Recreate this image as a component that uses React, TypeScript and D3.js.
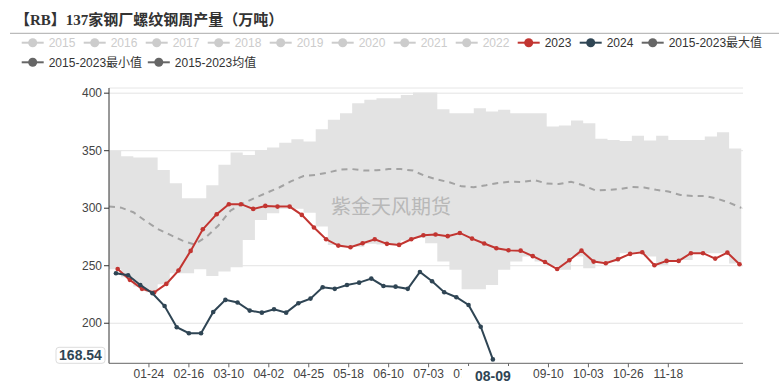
import React from "react";
import * as d3 from "d3";

const W = 779;
const H = 386;
const fmt = d3.timeFormat("%m-%d");

// category axis: every day of a (leap) year, MM-DD
const categories = d3.timeDay.range(new Date(2024, 0, 1), new Date(2025, 0, 1)).map(fmt);
// weekly dates of each series
const dates2023 = d3.timeFriday.range(new Date(2023, 0, 1), new Date(2024, 0, 1)).map(fmt);
const dates2024 = d3.timeFriday.range(new Date(2024, 0, 1), new Date(2024, 7, 10)).map(fmt);
const bandDates = d3.timeMonday.range(new Date(2024, 0, 1), new Date(2025, 0, 1)).map(fmt);

const values2023 = [
  247.2, 237.7, 229.9, 226.7, 234.2, 245.8, 262.9, 281.7, 294.8, 303.5,
  303.5, 299.4, 302, 301.4, 301.4, 294.2, 283.2, 273, 267.5, 266.1,
  269.6, 273, 269, 268.1, 273, 276.5, 277.1, 275.7, 278.5, 273.6,
  269.3, 265.2, 263.4, 263.1, 258.3, 253.2, 247.1, 254.8, 263.1, 253.6,
  252.2, 255.6, 260.3, 261.7, 250.4, 254.2, 254.2, 260.9, 260.9, 256.2,
  261.4, 251.3,
];
const values2024 = [
  243.5, 241.7, 233.3, 226.1, 215, 196.5, 191.3, 191.3, 209.8, 220.3,
  218, 211, 209.2, 212.2, 209.2, 217.4, 221.4, 231.3, 229.9, 233.3,
  235.3, 238.8, 232.4, 231.8, 229.9, 244.6, 236.5, 227, 222.6, 215.9,
  197, 168.54,
];
const bandMax = [
  350, 345.2, 344, 344, 333.3, 321.7, 308.7, 308.7, 320, 337.7,
  348.4, 346.3, 350.7, 352.7, 357, 360, 358, 368.7, 376.8, 382.6,
  391.3, 394.2, 395.6, 395.6, 398.5, 400.5, 400.5, 386, 382.6, 382.6,
  387, 384, 385.5, 382.6, 382.6, 382.6, 371, 371.8, 376.2, 373.9,
  360.3, 359.4, 358.5, 362.9, 358.8, 362.9, 359.4, 359.4, 359.4, 362.3,
  366.1, 352, 347.8,
];
const bandMin = [
  247, 240, 232, 227, 234, 243.5, 243.5, 247, 241, 245,
  248.7, 272.4, 289.8, 295.6, 301, 300, 296, 284, 268, 266,
  266.5, 269, 268.5, 268, 272, 274, 269.6, 253.6, 246.4, 229.6,
  229.6, 233.3, 246.4, 253.6, 258, 253.6, 250, 246.4, 258, 247.8,
  253.6, 253.6, 260.9, 260.9, 258, 250.7, 255, 255, 260.9, 260.9,
  260.9, 252, 252,
];
const bandAvg = [
  301.5, 300.5, 296.5, 289, 282, 277, 272, 268.5, 275, 285,
  298, 304, 309, 313.5, 318, 323.5, 328, 329, 331, 333.5,
  334, 332.7, 333, 334, 334, 332.7, 328, 325, 322.5, 319,
  318.3, 320, 322, 323, 322.8, 324.4, 321.5, 321, 323, 320,
  315.5, 316, 316.5, 318.5, 318, 316, 314.5, 311.5, 310.7, 310.7,
  308.3, 304.8, 300.3,
];

// labelled ticks (08-18 is covered by the axis-pointer label, so only its tick shows)
const xTickLabels = [
  "01-24", "02-16", "03-10", "04-02", "04-25", "05-18", "06-10",
  "07-03", "07-26", "09-10", "10-03", "10-26", "11-18",
];
const xTickOnly = ["08-18"];
const yTicks = [200, 250, 300, 350, 400];
const legendRow1 = ["2015", "2016", "2017", "2018", "2019", "2020", "2021", "2022", "2023", "2024", "2015-2023最大值"];
const legendRow2 = ["2015-2023最小值", "2015-2023均值"];
const activeLegend: Record<string, string> = {
  "2023": "#c23531",
  "2024": "#2f4554",
  "2015-2023最大值": "#666",
  "2015-2023最小值": "#666",
  "2015-2023均值": "#666",
};
const title = "【RB】137家钢厂螺纹钢周产量（万吨）";
const watermark = "紫金天风期货";
const pointerDate = "08-09";

const C2023 = "#c23531";
const C2024 = "#2f4554";
const FONT = "'Liberation Sans', 'Noto Sans CJK SC', sans-serif";

const plot = { left: 109, right: 743, top: 88, bottom: 363.3 };

function estW(s: string) {
  let w = 0;
  for (const ch of s) {
    if (/[0-9]/.test(ch)) w += 6.25;
    else if (ch === "-") w += 4;
    else w += 11.7;
  }
  return w;
}

function Legend({ items, y }: { items: string[]; y: number }) {
  let x = 21.7;
  const out: JSX.Element[] = [];
  items.forEach((name) => {
    const col = activeLegend[name] || "#ccc";
    const textCol = activeLegend[name] ? "#333" : "#ccc";
    out.push(
      <g key={name}>
        <line x1={x} x2={x + 22} y1={y} y2={y} stroke={col} strokeWidth={2} />
        <circle cx={x + 11} cy={y} r={4.5} fill={col} />
        <text x={x + 27} y={y + 4.2} fontSize={12} fill={textCol} fontFamily={FONT}>
          {name}
        </text>
      </g>
    );
    x += 27 + estW(name) + 10;
  });
  return <g>{out}</g>;
}

export default function App() {
  const x = d3.scalePoint<string>().domain(categories).range([plot.left, plot.right]);
  const yMin = (d3.min(values2024) as number) * 0.98;
  const yMax = (d3.max(bandMax) as number) * 1.01;
  const y = d3.scaleLinear().domain([yMin, yMax]).range([plot.bottom, plot.top]);

  const bandIdx = bandDates.map((_, i) => i);
  const area = d3
    .area<number>()
    .x((i) => x(bandDates[i]) as number)
    .y0((i) => y(bandMin[i]))
    .y1((i) => y(bandMax[i]))
    .curve(d3.curveStepAfter);
  const avgLine = d3
    .line<number>()
    .x((i) => x(bandDates[i]) as number)
    .y((i) => y(bandAvg[i]));

  const line23 = d3
    .line<number>()
    .x((i) => x(dates2023[i]) as number)
    .y((i) => y(values2023[i]));
  const line24 = d3
    .line<number>()
    .x((i) => x(dates2024[i]) as number)
    .y((i) => y(values2024[i]));
  const idx23 = values2023.map((_, i) => i);
  const idx24 = values2024.map((_, i) => i);

  const lastVal = values2024[values2024.length - 1];
  const pY = Math.min(y(lastVal), plot.bottom - 8);
  const pX = x(pointerDate) as number;

  return (
    <div style={{ position: "absolute", left: 0, top: 0 }}>
      <svg width={W} height={H} style={{ display: "block", background: "#fff" }}>
        <defs>
          <clipPath id="leftOfPointer">
            <rect x={0} y={0} width={pX - 31} height={H} />
          </clipPath>
        </defs>
        <text x={15} y={25} fontSize={15} fontWeight="bold" fill="#333"
          fontFamily="'Liberation Serif', 'Noto Sans CJK SC', serif">
          {title}
        </text>
        <line x1={10} x2={W} y1={33.3} y2={33.3} stroke="#aaa" strokeWidth={1} />
        <Legend items={legendRow1} y={42.7} />
        <Legend items={legendRow2} y={62.3} />

        {/* grid */}
        <line x1={plot.left} x2={plot.right} y1={plot.top} y2={plot.top} stroke="#e6e6e6" />
        {yTicks.map((t) => (
          <line key={t} x1={plot.left} x2={plot.right} y1={y(t)} y2={y(t)} stroke="#e3e3e3" />
        ))}

        {/* band */}
        <path d={area(bandIdx) || ""} fill="#e3e3e3" />
        <path d={avgLine(bandIdx) || ""} fill="none" stroke="#a3a3a3" strokeWidth={2} strokeDasharray="6,5" />

        <text x={331} y={214} fontSize={20} fill="#b8b8b8" fontFamily="'Noto Sans CJK SC', sans-serif">
          {watermark}
        </text>

        {/* 2023 */}
        <path d={line23(idx23) || ""} fill="none" stroke={C2023} strokeWidth={2} />
        {idx23.map((i) => (
          <circle key={i} cx={x(dates2023[i])} cy={y(values2023[i])} r={2.3} fill={C2023} />
        ))}
        {/* 2024 */}
        <path d={line24(idx24) || ""} fill="none" stroke={C2024} strokeWidth={2} />
        {idx24.map((i) => (
          <circle key={i} cx={x(dates2024[i])} cy={y(values2024[i])} r={2.3} fill={C2024} />
        ))}

        {/* axes */}
        <line x1={plot.left} x2={plot.left} y1={plot.top} y2={plot.bottom} stroke="#333" />
        <line x1={plot.left} x2={plot.right} y1={plot.bottom} y2={plot.bottom} stroke="#666" />
        {yTicks.map((t) => (
          <g key={t}>
            <line x1={plot.left - 5} x2={plot.left} y1={y(t)} y2={y(t)} stroke="#333" />
            <text x={plot.left - 7} y={y(t) + 4} fontSize={12} textAnchor="end" fill="#444" fontFamily={FONT}>
              {t}
            </text>
          </g>
        ))}
        {xTickOnly.map((lab) => (
          <line key={lab} x1={x(lab)} x2={x(lab)} y1={plot.bottom} y2={plot.bottom + 4} stroke="#666" />
        ))}
        {xTickLabels.map((lab) => {
          const lx = x(lab) as number;
          const covered = Math.abs(lx - pX) < 45;
          return (
            <g key={lab}>
              <line x1={lx} x2={lx} y1={plot.bottom} y2={plot.bottom + 4} stroke="#666" />
              <text x={lx} y={378} fontSize={12} textAnchor="middle" fill="#444" fontFamily={FONT}
                clipPath={covered ? "url(#leftOfPointer)" : undefined}>
                {lab}
              </text>
            </g>
          );
        })}

        {/* axis pointer labels */}
        <rect x={56} y={pY - 8} width={49} height={16} rx={3} fill="#fff" stroke="#ddd" />
        <text x={80.5} y={pY + 5} fontSize={14} fontWeight="bold" textAnchor="middle" fill={C2024} fontFamily={FONT}>
          {lastVal.toFixed(2)}
        </text>
        <rect x={pX - 31} y={366} width={62} height={22} fill="#fff" />
        <text x={pX} y={381} fontSize={14} fontWeight="bold" textAnchor="middle" fill={C2024} fontFamily={FONT}>
          {pointerDate}
        </text>
      </svg>
    </div>
  );
}
